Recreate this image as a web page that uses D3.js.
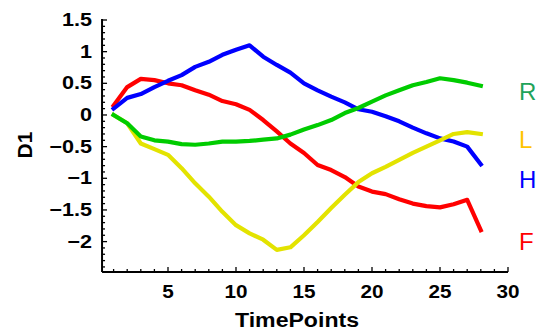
<!DOCTYPE html>
<html><head><meta charset="utf-8">
<script src="https://cdn.jsdelivr.net/npm/d3@7"></script>
<style>html,body{margin:0;padding:0;background:#fff;}svg{display:block;}</style>
</head><body>
<svg id="chart" width="538" height="332"></svg>
<script>
const timePoints = [1,2,3,4,5,6,7,8,9,10,11,12,13,14,15,16,17,18,19,20,21,22,23,24,25,26,27,28];
const seriesF = [0.15,0.44,0.57,0.55,0.5,0.47,0.39,0.32,0.22,0.17,0.08,-0.08,-0.26,-0.45,-0.6,-0.79,-0.87,-0.98,-1.13,-1.21,-1.25,-1.33,-1.4,-1.44,-1.46,-1.41,-1.34,-1.82];
const seriesH = [0.1,0.27,0.33,0.44,0.54,0.63,0.76,0.84,0.95,1.03,1.1,0.92,0.79,0.67,0.5,0.39,0.29,0.2,0.09,0.05,-0.02,-0.1,-0.2,-0.29,-0.37,-0.42,-0.5,-0.78];
const seriesL = [0,-0.13,-0.45,-0.54,-0.63,-0.84,-1.08,-1.29,-1.53,-1.74,-1.87,-1.97,-2.13,-2.09,-1.9,-1.69,-1.47,-1.26,-1.06,-0.92,-0.82,-0.71,-0.6,-0.5,-0.4,-0.3,-0.27,-0.3];
const seriesR = [0,-0.13,-0.34,-0.4,-0.42,-0.46,-0.47,-0.45,-0.42,-0.42,-0.41,-0.39,-0.37,-0.31,-0.23,-0.16,-0.08,0.03,0.11,0.21,0.31,0.39,0.47,0.52,0.58,0.55,0.51,0.46];
const seriesNames = ["F","H","L","R"];
const legendNames = ["R","L","H","F"];
const xTickValues = [5,10,15,20,25,30];
const yTickValues = [1.5,1,0.5,0,-0.5,-1,-1.5,-2];
const xLabel = "TimePoints";
const yLabel = "D1";

const lineColors = {F:"#ff0000", H:"#0000ff", L:"#e3e300", R:"#00cc00"};
const labelColors = {R:"#1fa35a", L:"#ffc400", H:"#0000ff", F:"#ff0000"};
const labelBaselines = {R:100, L:148, H:188, F:250};
const dataBy = {F:seriesF, H:seriesH, L:seriesL, R:seriesR};

const svg = d3.select("#chart");
const x = d3.scaleLinear().domain([0,30]).range([100,508]);
const y = d3.scaleLinear().domain([-2.48,1.5]).range([272,20]);
const x0 = 0.15, y0 = -2.48;

const xMinor = d3.range(1,31);
const yMinor = d3.range(-24,16).map(d=>d/10);

const axes = svg.append("g").attr("stroke","#000");
axes.selectAll(".xm").data(xMinor).join("line")
  .attr("x1",d=>x(d)).attr("x2",d=>x(d))
  .attr("y1",y(y0)).attr("y2",d=>y(y0)-(d%5===0?5:3))
  .attr("stroke-width",1.3);
axes.selectAll(".ym").data(yMinor).join("line")
  .attr("y1",d=>y(d)).attr("y2",d=>y(d))
  .attr("x1",x(x0)).attr("x2",d=>x(x0)+(Math.abs(Math.round(d*10))%5===0?5:3))
  .attr("stroke-width",1.3);
axes.append("line").attr("x1",x(x0)).attr("x2",x(30)).attr("y1",y(y0)).attr("y2",y(y0)).attr("stroke-width",2);
axes.append("line").attr("x1",x(x0)).attr("x2",x(x0)).attr("y1",y(y0)).attr("y2",y(1.5)-1).attr("stroke-width",2);

const fmt = d => (d<0?"\u2212":"") + String(Math.abs(d));
svg.selectAll(".xt").data(xTickValues).join("text")
  .attr("transform",d=>`translate(${x(d)},298) scale(1.15,1)`)
  .attr("text-anchor","middle")
  .attr("font-family","Liberation Sans, Arial, sans-serif").attr("font-weight","bold")
  .attr("font-size",18).text(fmt);
svg.selectAll(".yt").data(yTickValues).join("text")
  .attr("transform",d=>`translate(92,${y(d)+6}) scale(1.2,1)`)
  .attr("text-anchor","end")
  .attr("font-family","Liberation Sans, Arial, sans-serif").attr("font-weight","bold")
  .attr("font-size",18).text(fmt);

svg.append("text").attr("transform","translate(297,327) scale(1.1,1)")
  .attr("text-anchor","middle")
  .attr("font-family","Liberation Sans, Arial, sans-serif").attr("font-weight","bold")
  .attr("font-size",21).text(xLabel);
svg.append("text").attr("transform","translate(32,145) rotate(-90)")
  .attr("text-anchor","middle")
  .attr("font-family","Liberation Sans, Arial, sans-serif").attr("font-weight","bold")
  .attr("font-size",21).text(yLabel);

const line = d3.line().x((d,i)=>x(timePoints[i])).y(d=>y(d));
svg.append("g").selectAll("path").data(seriesNames).join("path")
  .attr("d",k=>line(dataBy[k]))
  .attr("fill","none").attr("stroke",k=>lineColors[k])
  .attr("stroke-width",4.2).attr("stroke-linejoin","round").attr("stroke-linecap","square");

svg.append("g").selectAll("text").data(legendNames).join("text")
  .attr("x",519).attr("y",k=>labelBaselines[k])
  .attr("font-family","Liberation Sans, Arial, sans-serif")
  .attr("font-size",24).attr("fill",k=>labelColors[k]).text(k=>k);
</script>
</body></html>
